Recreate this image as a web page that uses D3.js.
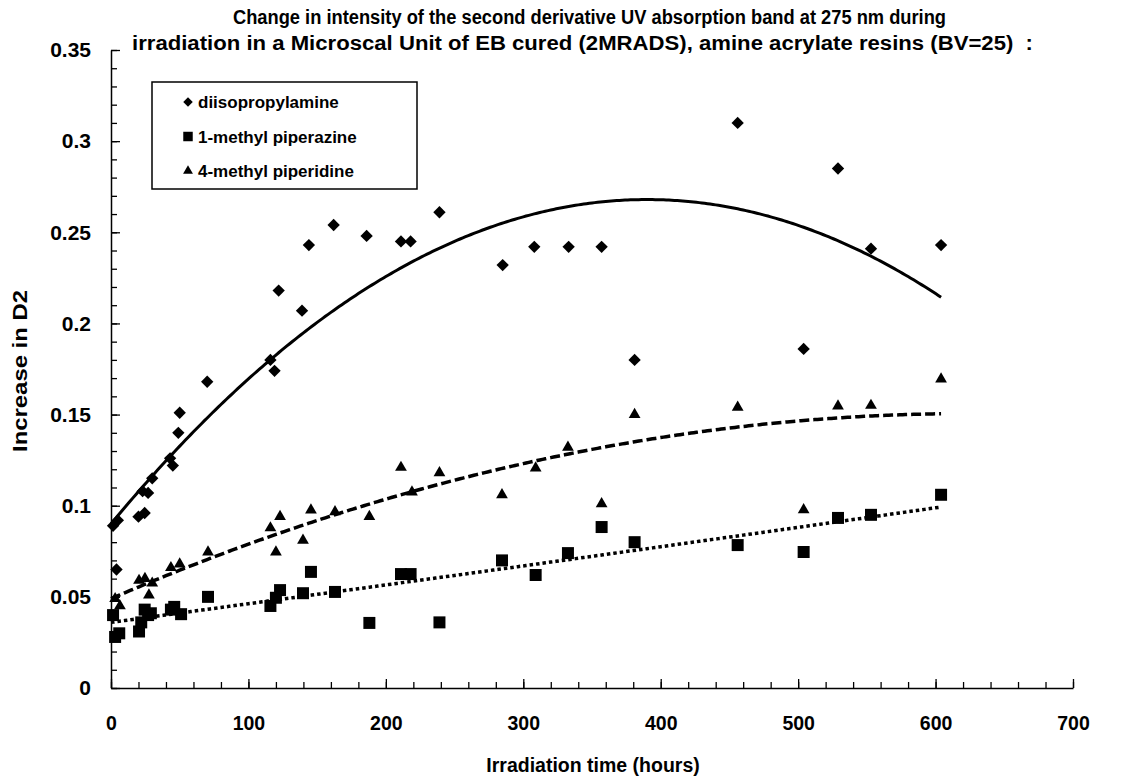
<!DOCTYPE html>
<html lang="en">
  <head>
    <meta charset="UTF-8" />
    <title>D2 intensity</title>
    <script src="https://d3js.org/d3.v7.min.js"></script>
    <style>
      body { margin: 0; background: #fff; }
      text { font-family: "Liberation Sans", Arial, sans-serif; font-weight: bold; fill: #000; }
    </style>
  </head>
  <body></body>
  <script>
    // diisopropylamine (diamonds)
    var diiX = [1.5, 5, 4, 20, 24.5, 23, 27, 30, 43, 45, 49, 50, 70, 116, 119, 122, 139, 144, 162, 186, 211, 218, 239, 285, 308, 333, 357, 381, 456, 504, 529, 553, 604];
    var diiY = [0.089, 0.092, 0.065, 0.094, 0.096, 0.108, 0.107, 0.115, 0.126, 0.122, 0.140, 0.151, 0.168, 0.180, 0.174, 0.218, 0.207, 0.243, 0.254, 0.248, 0.245, 0.245, 0.261, 0.232, 0.242, 0.242, 0.242, 0.180, 0.310, 0.186, 0.285, 0.241, 0.243];

    // 1-methyl piperazine (squares)
    var pipzX = [1.5, 3, 6, 20.4, 22, 24.5, 27, 29, 43.6, 46, 51, 70.6, 116, 120, 123, 139.7, 145.5, 163, 188, 211, 218, 239, 284.5, 309, 332.5, 357, 381, 456, 504, 529, 553, 604];
    var pipzY = [0.040, 0.028, 0.030, 0.031, 0.036, 0.043, 0.040, 0.041, 0.043, 0.0445, 0.0405, 0.050, 0.045, 0.0495, 0.0537, 0.052, 0.0637, 0.0527, 0.0357, 0.0625, 0.0625, 0.036, 0.070, 0.062, 0.074, 0.0883, 0.080, 0.0784, 0.0746, 0.0933, 0.095, 0.106];

    // 4-methyl piperidine (triangles)
    var pipdX = [3, 6.5, 20.4, 24.7, 27.6, 30, 43.6, 50, 70.6, 116, 120, 123, 139.7, 145.5, 163, 188, 211, 219, 239, 284.5, 309, 332.5, 357, 381, 456, 504, 529, 553, 604];
    var pipdY = [0.049, 0.045, 0.059, 0.060, 0.051, 0.0575, 0.066, 0.068, 0.0746, 0.0878, 0.0746, 0.094, 0.081, 0.0976, 0.0966, 0.094, 0.121, 0.1075, 0.118, 0.106, 0.1207, 0.132, 0.101, 0.150, 0.154, 0.0977, 0.1547, 0.155, 0.1695];

    // polynomial trendlines (c0, c1, c2), drawn from 0 to 604 h
    var trendDii = [0.09, 0.0009126, -1.17e-6];
    var trendPipz = [0.036, 0.0001018, 4.9e-9];
    var trendPipd = [0.049, 0.000325, -2.6e-7];
    var trendEnd = 604;

    var seriesNames = ["diisopropylamine", "1-methyl piperazine", "4-methyl piperidine"];
    var xTicks = [0, 100, 200, 300, 400, 500, 600, 700];
    var yTicks = [0, 0.05, 0.1, 0.15, 0.2, 0.25, 0.3, 0.35];

    var titleLines = [
      "Change in intensity of the second derivative UV absorption band at 275 nm during",
      "irradiation in a Microscal Unit of EB cured (2MRADS), amine acrylate resins (BV=25)\u00a0\u00a0:"
    ];

    var W = 1124, H = 776;
    var svg = d3.select("body").append("svg").attr("width", W).attr("height", H);

    var x = d3.scaleLinear().domain([0, 700]).range([111, 1073]);
    var y = d3.scaleLinear().domain([0, 0.35]).range([688, 50]);

    // title (each line fitted to the width it has in the original)
    var titleSpan = [[233, 946], [132, 1033]];
    svg.append("g")
      .selectAll("text")
      .data(titleLines)
      .join("text")
      .attr("x", (d, i) => titleSpan[i][0])
      .attr("y", (d, i) => 24 + i * 26)
      .attr("font-size", 19.5)
      .attr("textLength", (d, i) => titleSpan[i][1] - titleSpan[i][0])
      .attr("lengthAdjust", "spacingAndGlyphs")
      .text(d => d);

    // minor ticks
    svg.append("g")
      .attr("transform", "translate(0,688)")
      .call(d3.axisBottom(x).tickValues(d3.range(0, 701, 20)).tickSize(-6).tickFormat(""))
      .call(g => g.select(".domain").remove());
    svg.append("g")
      .attr("transform", "translate(111,0)")
      .call(d3.axisLeft(y).tickValues(d3.range(0, 0.3501, 0.01)).tickSize(-6).tickFormat(""))
      .call(g => g.select(".domain").remove());

    // main axes
    var xAxis = svg.append("g")
      .attr("transform", "translate(0,688)")
      .call(d3.axisBottom(x).tickValues(xTicks).tickSizeInner(-9).tickSizeOuter(0).tickPadding(28).tickFormat(d3.format("d")));
    var yAxis = svg.append("g")
      .attr("transform", "translate(111,0)")
      .call(d3.axisLeft(y).tickValues(yTicks).tickSizeInner(-9).tickSizeOuter(0).tickPadding(20).tickFormat(d => d === 0 ? "0" : String(+d.toFixed(2))));
    [xAxis, yAxis].forEach(g => {
      g.attr("font-family", null).attr("font-size", null);
      g.selectAll("line, path").attr("stroke", "#000").attr("stroke-width", 1.5);
    });
    xAxis.selectAll("text").attr("font-size", 19.5);
    yAxis.selectAll("text").attr("font-size", 21);
    svg.selectAll(".tick line").attr("stroke", "#000").attr("stroke-width", 1.3);

    // axis titles
    svg.append("text")
      .attr("x", 593).attr("y", 772)
      .attr("text-anchor", "middle").attr("font-size", 19.5)
      .text("Irradiation time (hours)");
    svg.append("text")
      .attr("transform", "translate(27,371) rotate(-90)")
      .attr("text-anchor", "middle").attr("font-size", 19.5)
      .attr("textLength", 162)
      .attr("lengthAdjust", "spacingAndGlyphs")
      .text("Increase in D2");

    // trendlines
    function poly(c) {
      return d3.range(0, trendEnd + 0.01, 2).map(t => [t, c[0] + c[1] * t + c[2] * t * t]);
    }
    var line = d3.line().x(d => x(d[0])).y(d => y(d[1]));
    svg.append("path").datum(poly(trendDii)).attr("d", line)
      .attr("fill", "none").attr("stroke", "#000").attr("stroke-width", 3);
    svg.append("path").datum(poly(trendPipd)).attr("d", line)
      .attr("fill", "none").attr("stroke", "#000").attr("stroke-width", 3.5)
      .attr("stroke-dasharray", "10,4");
    svg.append("path").datum(poly(trendPipz)).attr("d", line)
      .attr("fill", "none").attr("stroke", "#000").attr("stroke-width", 3.5)
      .attr("stroke-dasharray", "3.5,3");

    // markers
    var diamond = d3.symbol().type(d3.symbolSquare).size(76);
    var square = d3.symbol().type(d3.symbolSquare).size(144);
    var triangle = d3.symbol().type(d3.symbolTriangle).size(60);

    function zip(xs, ys) { return xs.map((v, i) => [v, ys[i]]); }

    svg.append("g").selectAll("path")
      .data(zip(pipzX, pipzY)).join("path")
      .attr("d", square)
      .attr("transform", d => `translate(${x(d[0])},${y(d[1])})`);
    svg.append("g").selectAll("path")
      .data(zip(pipdX, pipdY)).join("path")
      .attr("d", triangle)
      .attr("transform", d => `translate(${x(d[0])},${y(d[1])})`);
    svg.append("g").selectAll("path")
      .data(zip(diiX, diiY)).join("path")
      .attr("d", diamond)
      .attr("transform", d => `translate(${x(d[0])},${y(d[1])}) rotate(45)`);

    // legend
    var lg = svg.append("g").attr("transform", "translate(152,82)");
    lg.append("rect").attr("width", 265).attr("height", 107)
      .attr("fill", "#fff").attr("stroke", "#000").attr("stroke-width", 1.5);
    var legendSym = [
      d3.symbol().type(d3.symbolSquare).size(45),
      d3.symbol().type(d3.symbolSquare).size(90),
      d3.symbol().type(d3.symbolTriangle).size(42)
    ];
    var rows = lg.selectAll("g.row").data(seriesNames).join("g")
      .attr("class", "row")
      .attr("transform", (d, i) => `translate(0,${20 + i * 34.5})`);
    rows.append("path")
      .attr("d", (d, i) => legendSym[i]())
      .attr("transform", (d, i) => `translate(36,0)${i === 0 ? " rotate(45)" : ""}`);
    rows.append("text")
      .attr("x", 46).attr("y", 6)
      .attr("font-size", 17)
      .text(d => d);
  </script>
</html>
